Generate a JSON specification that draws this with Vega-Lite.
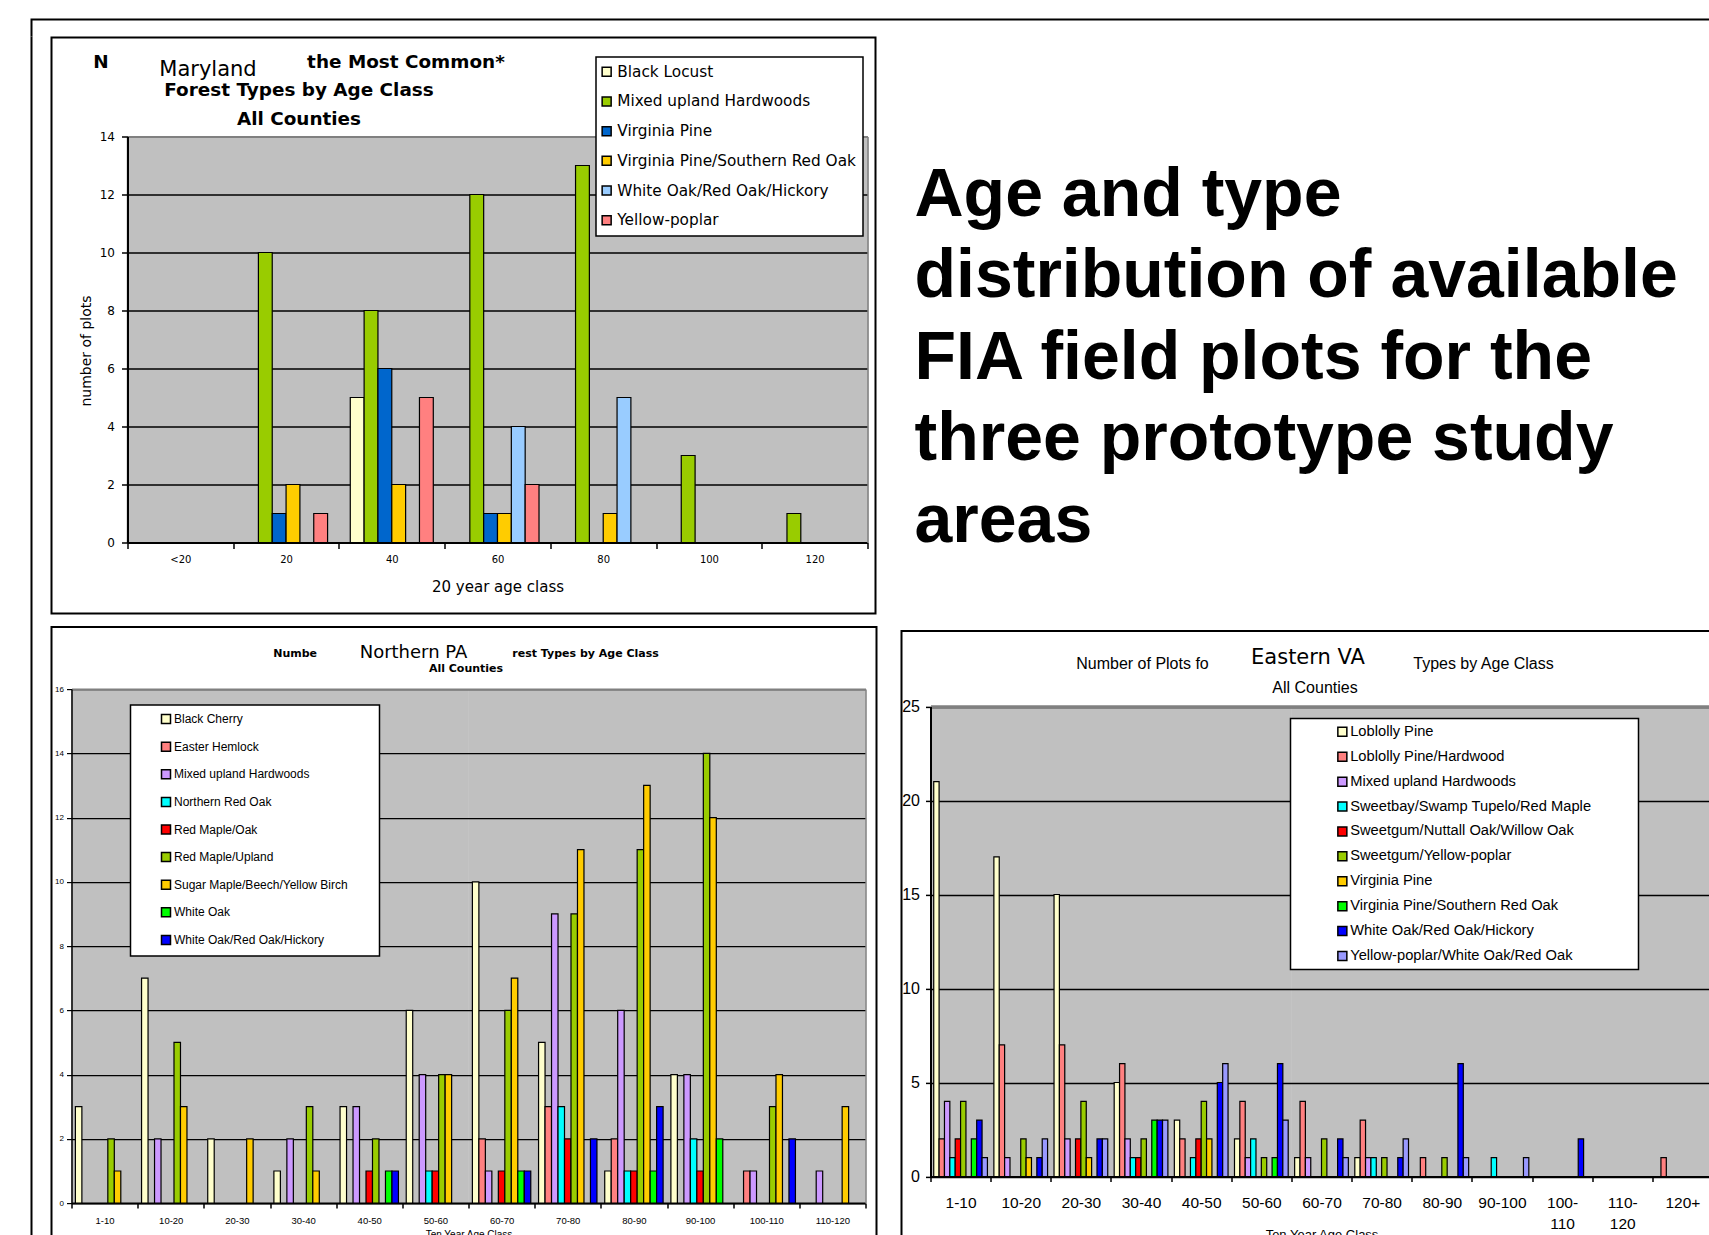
{
 "$schema": "https://vega.github.io/schema/vega-lite/v6.json",
 "usermeta": {"embedOptions": {"actions": false}},
 "background": "white",
 "padding": {"left": 29.5, "top": 17.5, "right": 0, "bottom": 0},
 "config": {
  "view": {"stroke": null},
  "legend": {"strokeWidth": 1.5},
  "axis": {"labelColor": "black", "titleColor": "black", "tickColor": "black", "domainColor": "black", "labelFlush": false, "labelOverlap": false, "titleFontWeight": "normal", "labelAngle": 0}
 },
 "datasets": {
  "maryland": [
   {"age": "20", "type": "Mixed upland Hardwoods", "plots": 10},
   {"age": "20", "type": "Virginia Pine", "plots": 1},
   {"age": "20", "type": "Virginia Pine/Southern Red Oak", "plots": 2},
   {"age": "20", "type": "Yellow-poplar", "plots": 1},
   {"age": "40", "type": "Black Locust", "plots": 5},
   {"age": "40", "type": "Mixed upland Hardwoods", "plots": 8},
   {"age": "40", "type": "Virginia Pine", "plots": 6},
   {"age": "40", "type": "Virginia Pine/Southern Red Oak", "plots": 2},
   {"age": "40", "type": "Yellow-poplar", "plots": 5},
   {"age": "60", "type": "Mixed upland Hardwoods", "plots": 12},
   {"age": "60", "type": "Virginia Pine", "plots": 1},
   {"age": "60", "type": "Virginia Pine/Southern Red Oak", "plots": 1},
   {"age": "60", "type": "White Oak/Red Oak/Hickory", "plots": 4},
   {"age": "60", "type": "Yellow-poplar", "plots": 2},
   {"age": "80", "type": "Mixed upland Hardwoods", "plots": 13},
   {"age": "80", "type": "Virginia Pine/Southern Red Oak", "plots": 1},
   {"age": "80", "type": "White Oak/Red Oak/Hickory", "plots": 5},
   {"age": "100", "type": "Mixed upland Hardwoods", "plots": 3},
   {"age": "120", "type": "Mixed upland Hardwoods", "plots": 1}
  ],
  "northernPA": [
   {"age": "1-10", "type": "Black Cherry", "plots": 3},
   {"age": "1-10", "type": "Red Maple/Upland", "plots": 2},
   {"age": "1-10", "type": "Sugar Maple/Beech/Yellow Birch", "plots": 1},
   {"age": "10-20", "type": "Black Cherry", "plots": 7},
   {"age": "10-20", "type": "Mixed upland Hardwoods", "plots": 2},
   {"age": "10-20", "type": "Red Maple/Upland", "plots": 5},
   {"age": "10-20", "type": "Sugar Maple/Beech/Yellow Birch", "plots": 3},
   {"age": "20-30", "type": "Black Cherry", "plots": 2},
   {"age": "20-30", "type": "Sugar Maple/Beech/Yellow Birch", "plots": 2},
   {"age": "30-40", "type": "Black Cherry", "plots": 1},
   {"age": "30-40", "type": "Mixed upland Hardwoods", "plots": 2},
   {"age": "30-40", "type": "Red Maple/Upland", "plots": 3},
   {"age": "30-40", "type": "Sugar Maple/Beech/Yellow Birch", "plots": 1},
   {"age": "40-50", "type": "Black Cherry", "plots": 3},
   {"age": "40-50", "type": "Mixed upland Hardwoods", "plots": 3},
   {"age": "40-50", "type": "Red Maple/Oak", "plots": 1},
   {"age": "40-50", "type": "Red Maple/Upland", "plots": 2},
   {"age": "40-50", "type": "White Oak", "plots": 1},
   {"age": "40-50", "type": "White Oak/Red Oak/Hickory", "plots": 1},
   {"age": "50-60", "type": "Black Cherry", "plots": 6},
   {"age": "50-60", "type": "Mixed upland Hardwoods", "plots": 4},
   {"age": "50-60", "type": "Northern Red Oak", "plots": 1},
   {"age": "50-60", "type": "Red Maple/Oak", "plots": 1},
   {"age": "50-60", "type": "Red Maple/Upland", "plots": 4},
   {"age": "50-60", "type": "Sugar Maple/Beech/Yellow Birch", "plots": 4},
   {"age": "60-70", "type": "Black Cherry", "plots": 10},
   {"age": "60-70", "type": "Easter Hemlock", "plots": 2},
   {"age": "60-70", "type": "Mixed upland Hardwoods", "plots": 1},
   {"age": "60-70", "type": "Red Maple/Oak", "plots": 1},
   {"age": "60-70", "type": "Red Maple/Upland", "plots": 6},
   {"age": "60-70", "type": "Sugar Maple/Beech/Yellow Birch", "plots": 7},
   {"age": "60-70", "type": "White Oak", "plots": 1},
   {"age": "60-70", "type": "White Oak/Red Oak/Hickory", "plots": 1},
   {"age": "70-80", "type": "Black Cherry", "plots": 5},
   {"age": "70-80", "type": "Easter Hemlock", "plots": 3},
   {"age": "70-80", "type": "Mixed upland Hardwoods", "plots": 9},
   {"age": "70-80", "type": "Northern Red Oak", "plots": 3},
   {"age": "70-80", "type": "Red Maple/Oak", "plots": 2},
   {"age": "70-80", "type": "Red Maple/Upland", "plots": 9},
   {"age": "70-80", "type": "Sugar Maple/Beech/Yellow Birch", "plots": 11},
   {"age": "70-80", "type": "White Oak/Red Oak/Hickory", "plots": 2},
   {"age": "80-90", "type": "Black Cherry", "plots": 1},
   {"age": "80-90", "type": "Easter Hemlock", "plots": 2},
   {"age": "80-90", "type": "Mixed upland Hardwoods", "plots": 6},
   {"age": "80-90", "type": "Northern Red Oak", "plots": 1},
   {"age": "80-90", "type": "Red Maple/Oak", "plots": 1},
   {"age": "80-90", "type": "Red Maple/Upland", "plots": 11},
   {"age": "80-90", "type": "Sugar Maple/Beech/Yellow Birch", "plots": 13},
   {"age": "80-90", "type": "White Oak", "plots": 1},
   {"age": "80-90", "type": "White Oak/Red Oak/Hickory", "plots": 3},
   {"age": "90-100", "type": "Black Cherry", "plots": 4},
   {"age": "90-100", "type": "Mixed upland Hardwoods", "plots": 4},
   {"age": "90-100", "type": "Northern Red Oak", "plots": 2},
   {"age": "90-100", "type": "Red Maple/Oak", "plots": 1},
   {"age": "90-100", "type": "Red Maple/Upland", "plots": 14},
   {"age": "90-100", "type": "Sugar Maple/Beech/Yellow Birch", "plots": 12},
   {"age": "90-100", "type": "White Oak", "plots": 2},
   {"age": "100-110", "type": "Easter Hemlock", "plots": 1},
   {"age": "100-110", "type": "Mixed upland Hardwoods", "plots": 1},
   {"age": "100-110", "type": "Red Maple/Upland", "plots": 3},
   {"age": "100-110", "type": "Sugar Maple/Beech/Yellow Birch", "plots": 4},
   {"age": "100-110", "type": "White Oak/Red Oak/Hickory", "plots": 2},
   {"age": "110-120", "type": "Mixed upland Hardwoods", "plots": 1},
   {"age": "110-120", "type": "Sugar Maple/Beech/Yellow Birch", "plots": 3}
  ],
  "easternVA": [
   {"age": "1-10", "type": "Loblolly Pine", "plots": 21},
   {"age": "1-10", "type": "Loblolly Pine/Hardwood", "plots": 2},
   {"age": "1-10", "type": "Mixed upland Hardwoods", "plots": 4},
   {"age": "1-10", "type": "Sweetbay/Swamp Tupelo/Red Maple", "plots": 1},
   {"age": "1-10", "type": "Sweetgum/Nuttall Oak/Willow Oak", "plots": 2},
   {"age": "1-10", "type": "Sweetgum/Yellow-poplar", "plots": 4},
   {"age": "1-10", "type": "Virginia Pine/Southern Red Oak", "plots": 2},
   {"age": "1-10", "type": "White Oak/Red Oak/Hickory", "plots": 3},
   {"age": "1-10", "type": "Yellow-poplar/White Oak/Red Oak", "plots": 1},
   {"age": "10-20", "type": "Loblolly Pine", "plots": 17},
   {"age": "10-20", "type": "Loblolly Pine/Hardwood", "plots": 7},
   {"age": "10-20", "type": "Mixed upland Hardwoods", "plots": 1},
   {"age": "10-20", "type": "Sweetgum/Yellow-poplar", "plots": 2},
   {"age": "10-20", "type": "Virginia Pine", "plots": 1},
   {"age": "10-20", "type": "White Oak/Red Oak/Hickory", "plots": 1},
   {"age": "10-20", "type": "Yellow-poplar/White Oak/Red Oak", "plots": 2},
   {"age": "20-30", "type": "Loblolly Pine", "plots": 15},
   {"age": "20-30", "type": "Loblolly Pine/Hardwood", "plots": 7},
   {"age": "20-30", "type": "Mixed upland Hardwoods", "plots": 2},
   {"age": "20-30", "type": "Sweetgum/Nuttall Oak/Willow Oak", "plots": 2},
   {"age": "20-30", "type": "Sweetgum/Yellow-poplar", "plots": 4},
   {"age": "20-30", "type": "Virginia Pine", "plots": 1},
   {"age": "20-30", "type": "White Oak/Red Oak/Hickory", "plots": 2},
   {"age": "20-30", "type": "Yellow-poplar/White Oak/Red Oak", "plots": 2},
   {"age": "30-40", "type": "Loblolly Pine", "plots": 5},
   {"age": "30-40", "type": "Loblolly Pine/Hardwood", "plots": 6},
   {"age": "30-40", "type": "Mixed upland Hardwoods", "plots": 2},
   {"age": "30-40", "type": "Sweetbay/Swamp Tupelo/Red Maple", "plots": 1},
   {"age": "30-40", "type": "Sweetgum/Nuttall Oak/Willow Oak", "plots": 1},
   {"age": "30-40", "type": "Sweetgum/Yellow-poplar", "plots": 2},
   {"age": "30-40", "type": "Virginia Pine/Southern Red Oak", "plots": 3},
   {"age": "30-40", "type": "White Oak/Red Oak/Hickory", "plots": 3},
   {"age": "30-40", "type": "Yellow-poplar/White Oak/Red Oak", "plots": 3},
   {"age": "40-50", "type": "Loblolly Pine", "plots": 3},
   {"age": "40-50", "type": "Loblolly Pine/Hardwood", "plots": 2},
   {"age": "40-50", "type": "Sweetbay/Swamp Tupelo/Red Maple", "plots": 1},
   {"age": "40-50", "type": "Sweetgum/Nuttall Oak/Willow Oak", "plots": 2},
   {"age": "40-50", "type": "Sweetgum/Yellow-poplar", "plots": 4},
   {"age": "40-50", "type": "Virginia Pine", "plots": 2},
   {"age": "40-50", "type": "White Oak/Red Oak/Hickory", "plots": 5},
   {"age": "40-50", "type": "Yellow-poplar/White Oak/Red Oak", "plots": 6},
   {"age": "50-60", "type": "Loblolly Pine", "plots": 2},
   {"age": "50-60", "type": "Loblolly Pine/Hardwood", "plots": 4},
   {"age": "50-60", "type": "Mixed upland Hardwoods", "plots": 1},
   {"age": "50-60", "type": "Sweetbay/Swamp Tupelo/Red Maple", "plots": 2},
   {"age": "50-60", "type": "Sweetgum/Yellow-poplar", "plots": 1},
   {"age": "50-60", "type": "Virginia Pine/Southern Red Oak", "plots": 1},
   {"age": "50-60", "type": "White Oak/Red Oak/Hickory", "plots": 6},
   {"age": "50-60", "type": "Yellow-poplar/White Oak/Red Oak", "plots": 3},
   {"age": "60-70", "type": "Loblolly Pine", "plots": 1},
   {"age": "60-70", "type": "Loblolly Pine/Hardwood", "plots": 4},
   {"age": "60-70", "type": "Mixed upland Hardwoods", "plots": 1},
   {"age": "60-70", "type": "Sweetgum/Yellow-poplar", "plots": 2},
   {"age": "60-70", "type": "White Oak/Red Oak/Hickory", "plots": 2},
   {"age": "60-70", "type": "Yellow-poplar/White Oak/Red Oak", "plots": 1},
   {"age": "70-80", "type": "Loblolly Pine", "plots": 1},
   {"age": "70-80", "type": "Loblolly Pine/Hardwood", "plots": 3},
   {"age": "70-80", "type": "Mixed upland Hardwoods", "plots": 1},
   {"age": "70-80", "type": "Sweetbay/Swamp Tupelo/Red Maple", "plots": 1},
   {"age": "70-80", "type": "Sweetgum/Yellow-poplar", "plots": 1},
   {"age": "70-80", "type": "White Oak/Red Oak/Hickory", "plots": 1},
   {"age": "70-80", "type": "Yellow-poplar/White Oak/Red Oak", "plots": 2},
   {"age": "80-90", "type": "Loblolly Pine/Hardwood", "plots": 1},
   {"age": "80-90", "type": "Sweetgum/Yellow-poplar", "plots": 1},
   {"age": "80-90", "type": "White Oak/Red Oak/Hickory", "plots": 6},
   {"age": "80-90", "type": "Yellow-poplar/White Oak/Red Oak", "plots": 1},
   {"age": "90-100", "type": "Sweetbay/Swamp Tupelo/Red Maple", "plots": 1},
   {"age": "90-100", "type": "Yellow-poplar/White Oak/Red Oak", "plots": 1},
   {"age": "100-110", "type": "White Oak/Red Oak/Hickory", "plots": 2},
   {"age": "120+", "type": "Loblolly Pine/Hardwood", "plots": 1}
  ],
  "heading": [
   {"text": "Age and type\ndistribution of available\nFIA field plots for the\nthree prototype study\nareas"}
  ]
 },
 "spacing": -6.5,
 "resolve": {"scale": {"x": "independent", "y": "independent", "color": "independent", "xOffset": "independent"}},
 "vconcat": [
  {"width": 1690, "height": 15.9, "data": {"values": []}, "mark": "point",
   "view": {"stroke": "black", "strokeWidth": 2, "strokeCap": "square", "strokeDash": [1690, 1705.9, 15.9], "fill": null}},
  {"spacing": 0,
   "resolve": {"scale": {"x": "independent", "y": "independent", "color": "independent", "xOffset": "independent"}},
   "hconcat": [
    {"width": 17.5, "height": 1230, "data": {"values": []}, "mark": "point",
     "view": {"stroke": "black", "strokeWidth": 2, "strokeCap": "square", "strokeDash": [0, 1265, 1230], "fill": null}},
    {"spacing": 11.6,
     "resolve": {"scale": {"x": "independent", "y": "independent", "color": "independent", "xOffset": "independent"}},
     "vconcat": [
      {"spacing": 37.5,
       "resolve": {"scale": {"x": "independent", "y": "independent", "color": "independent", "xOffset": "independent"}},
       "hconcat": [
        {"width": 824, "height": 576,
         "view": {"stroke": "black", "strokeWidth": 2, "fill": "white"},
         "data": {"name": "maryland"},
         "layer": [
          {"mark": {"type": "bar", "opacity": 0},
           "encoding": {
            "x": {"field": "age", "type": "nominal",
                  "axis": {"orient": "top", "offset": -99, "grid": true, "gridColor": "#C0C0C0", "gridWidth": 107, "gridOpacity": 1, "bandPosition": 0.5, "ticks": false, "labels": false, "domain": true, "domainColor": "#808080", "domainWidth": 2,
                           "title": ["N\u00a0\u00a0\u00a0\u00a0\u00a0\u00a0\u00a0\u00a0\u00a0\u00a0\u00a0\u00a0\u00a0\u00a0\u00a0\u00a0\u00a0\u00a0\u00a0\u00a0\u00a0\u00a0\u00a0\u00a0\u00a0\u00a0\u00a0\u00a0\u00a0\u00a0\u00a0the Most Common*", "Forest Types by Age Class", "All Counties"],
                           "titleFont": "DejaVu Sans", "titleFontSize": 18.4, "titleFontWeight": "bold", "titleLineHeight": 28.3, "titleAlign": "center", "titleBaseline": "top", "titleAngle": 0, "titleX": 247, "titleY": -83.8}},
            "y": {"field": "plots", "type": "quantitative", "stack": null,
                  "axis": {"orient": "right", "offset": -8, "grid": false, "ticks": false, "labels": false, "domain": true, "domainColor": "#808080", "domainWidth": 1.5,
                           "title": "Maryland", "titleFont": "DejaVu Sans", "titleFontSize": 21, "titleFontWeight": "normal", "titleAngle": 0, "titleAlign": "center", "titleBaseline": "top", "titleX": -660, "titleY": 21}}
           }},
          {"mark": {"type": "bar", "stroke": "black", "strokeWidth": 1.2},
           "encoding": {
            "x": {"field": "age", "type": "nominal",
                  "scale": {"domain": ["<20", "20", "40", "60", "80", "100", "120"], "range": [76, 816], "paddingInner": 0, "paddingOuter": 0},
                  "axis": {"orient": "bottom", "offset": -71, "tickBand": "extent", "tickSize": 6, "tickWidth": 1.5, "labelFont": "DejaVu Sans", "labelFontSize": 10, "labelPadding": 6, "domainWidth": 2, "grid": false, "title": "20 year age class", "titleFont": "DejaVu Sans", "titleFontSize": 15, "titlePadding": 14.5}},
            "y": {"field": "plots", "type": "quantitative", "stack": null,
                  "scale": {"domain": [0, 14], "range": [505, 99], "nice": false},
                  "axis": {"orient": "left", "offset": -76, "values": [0, 2, 4, 6, 8, 10, 12, 14], "grid": true, "gridColor": "black", "gridWidth": 1.6, "tickSize": 6, "tickWidth": 1.5, "labelFont": "DejaVu Sans", "labelFontSize": 12, "labelPadding": 7, "domainWidth": 2, "title": "number of plots", "titleFont": "DejaVu Sans", "titleFontSize": 14, "titlePadding": 6, "titleY": 313}},
            "xOffset": {"field": "type", "scale": {"domain": ["Black Locust", "Mixed upland Hardwoods", "Virginia Pine", "Virginia Pine/Southern Red Oak", "White Oak/Red Oak/Hickory", "Yellow-poplar"], "paddingInner": 0, "paddingOuter": 0.82}},
            "color": {"field": "type", "type": "nominal",
                      "scale": {"domain": ["Black Locust", "Mixed upland Hardwoods", "Virginia Pine", "Virginia Pine/Southern Red Oak", "White Oak/Red Oak/Hickory", "Yellow-poplar"], "range": ["#FFFFCC", "#99CC00", "#0066CC", "#FFCC00", "#99CCFF", "#FF8080"]},
                      "legend": {"orient": "none", "legendX": 544.5, "legendY": 19.6, "title": null, "symbolType": "square", "symbolSize": 81, "symbolStrokeColor": "black", "symbolStrokeWidth": 1.5, "labelFont": "DejaVu Sans", "labelFontSize": 15.3, "labelColor": "black", "rowPadding": 13.7, "padding": 7, "symbolOffset": -4, "strokeColor": "black", "fillColor": "white", "labelOffset": 3, "labelLimit": 0}}
           }}
         ],
         "resolve": {"axis": {"x": "independent", "y": "independent"}}
        },
        {"width": 1, "height": 248.4,
         "data": {"name": "heading"},
         "mark": {"type": "text", "align": "left", "baseline": "top", "font": "Liberation Sans", "fontSize": 68, "fontWeight": "bold", "lineHeight": 81.5, "lineBreak": "\n", "color": "black"},
         "encoding": {"text": {"field": "text", "type": "nominal"}}
        }
       ]},
      {"spacing": 23,
       "resolve": {"scale": {"x": "independent", "y": "independent", "color": "independent", "xOffset": "independent"}},
       "hconcat": [
        {"width": 825, "height": 640,
         "view": {"stroke": "black", "strokeWidth": 2, "fill": "white"},
         "data": {"name": "northernPA"},
         "layer": [
          {"mark": {"type": "bar", "opacity": 0},
           "encoding": {
            "x": {"field": "age", "type": "nominal",
                  "axis": {"orient": "top", "offset": -62, "grid": true, "gridColor": "#C0C0C0", "gridWidth": 67.5, "gridOpacity": 1, "bandPosition": 0.5, "ticks": false, "labels": false, "domain": true, "domainColor": "#808080", "domainWidth": 2,
                           "title": ["Numbe\u00a0\u00a0\u00a0\u00a0\u00a0\u00a0\u00a0\u00a0\u00a0\u00a0\u00a0\u00a0\u00a0\u00a0\u00a0\u00a0\u00a0\u00a0\u00a0\u00a0\u00a0\u00a0\u00a0\u00a0\u00a0\u00a0\u00a0\u00a0\u00a0\u00a0\u00a0\u00a0\u00a0\u00a0\u00a0\u00a0\u00a0\u00a0\u00a0\u00a0\u00a0\u00a0\u00a0\u00a0\u00a0\u00a0\u00a0\u00a0\u00a0\u00a0\u00a0rest Types by Age Class", "All Counties"],
                           "titleFont": "DejaVu Sans", "titleFontSize": 11, "titleFontWeight": "bold", "titleLineHeight": 15, "titleAlign": "center", "titleBaseline": "top", "titleAngle": 0, "titleX": 414, "titleY": -41.5}},
            "y": {"field": "plots", "type": "quantitative", "stack": null,
                  "axis": {"orient": "right", "offset": -11, "grid": false, "ticks": false, "labels": false, "domain": true, "domainColor": "#808080", "domainWidth": 1.5,
                           "title": "Northern PA", "titleFont": "DejaVu Sans", "titleFontSize": 18, "titleFontWeight": "normal", "titleAngle": 0, "titleAlign": "center", "titleBaseline": "top", "titleX": -452.5, "titleY": 16.2}}
           }},
          {"mark": {"type": "bar", "stroke": "black", "strokeWidth": 1.2},
           "encoding": {
            "x": {"field": "age", "type": "nominal",
                  "scale": {"domain": ["1-10", "10-20", "20-30", "30-40", "40-50", "50-60", "60-70", "70-80", "80-90", "90-100", "100-110", "110-120"], "range": [20, 814], "paddingInner": 0, "paddingOuter": 0},
                  "axis": {"orient": "bottom", "offset": -64, "tickBand": "extent", "tickSize": 5, "tickWidth": 1.5, "labelFont": "Liberation Sans", "labelFontSize": 9.5, "labelPadding": 7, "domainWidth": 2, "grid": false, "title": "Ten Year Age Class", "titleFont": "Liberation Sans", "titleFontSize": 10, "titleColor": "black", "titlePadding": 5}},
            "y": {"field": "plots", "type": "quantitative", "stack": null,
                  "scale": {"domain": [0, 16], "range": [576, 62], "nice": false},
                  "axis": {"orient": "left", "offset": -20, "values": [0, 2, 4, 6, 8, 10, 12, 14, 16], "grid": true, "gridColor": "black", "gridWidth": 1.2, "tickSize": 5, "tickWidth": 1.2, "labelFont": "Liberation Sans", "labelFontSize": 8, "labelPadding": 3, "domainWidth": 1.5, "title": null}},
            "xOffset": {"field": "type", "scale": {"domain": ["Black Cherry", "Easter Hemlock", "Mixed upland Hardwoods", "Northern Red Oak", "Red Maple/Oak", "Red Maple/Upland", "Sugar Maple/Beech/Yellow Birch", "White Oak", "White Oak/Red Oak/Hickory"], "paddingInner": 0, "paddingOuter": 0.6}},
            "color": {"field": "type", "type": "nominal",
                      "scale": {"domain": ["Black Cherry", "Easter Hemlock", "Mixed upland Hardwoods", "Northern Red Oak", "Red Maple/Oak", "Red Maple/Upland", "Sugar Maple/Beech/Yellow Birch", "White Oak", "White Oak/Red Oak/Hickory"], "range": ["#FFFFCC", "#FF8080", "#CC99FF", "#00FFFF", "#FF0000", "#99CC00", "#FFCC00", "#00FF00", "#0000FF"]},
                      "legend": {"orient": "none", "legendX": 79, "legendY": 78, "title": null, "symbolType": "square", "symbolSize": 81, "symbolStrokeColor": "black", "symbolStrokeWidth": 1.5, "labelFont": "Liberation Sans", "labelFontSize": 12, "labelColor": "black", "rowPadding": 11.6, "padding": 8, "symbolOffset": 21.5, "strokeColor": "black", "fillColor": "white", "labelOffset": 2, "labelLimit": 0,
                                 "labelExpr": "datum.label + '\u00a0\u00a0\u00a0\u00a0\u00a0\u00a0\u00a0\u200b'"}}
           }}
         ],
         "resolve": {"axis": {"x": "independent", "y": "independent"}}
        },
        {"spacing": 1.8,
         "resolve": {"scale": {"x": "independent", "y": "independent", "color": "independent", "xOffset": "independent"}},
         "vconcat": [
          {"width": 1, "height": 0.2, "data": {"values": []}, "mark": "point"},
          {"width": 812, "height": 640,
           "view": {"stroke": "black", "strokeWidth": 2, "fill": "white"},
           "data": {"name": "easternVA"},
           "layer": [
            {"mark": {"type": "bar", "opacity": 0},
             "encoding": {
              "x": {"field": "age", "type": "nominal",
                    "axis": {"orient": "top", "offset": -75.6, "grid": true, "gridColor": "#C0C0C0", "gridWidth": 61.5, "gridOpacity": 1, "bandPosition": 0.5, "ticks": false, "labels": false, "domain": true, "domainColor": "#808080", "domainWidth": 3.5,
                             "title": ["Number of Plots fo\u00a0\u00a0\u00a0\u00a0\u00a0\u00a0\u00a0\u00a0\u00a0\u00a0\u00a0\u00a0\u00a0\u00a0\u00a0\u00a0\u00a0\u00a0\u00a0\u00a0\u00a0\u00a0\u00a0\u00a0\u00a0\u00a0\u00a0\u00a0\u00a0\u00a0\u00a0\u00a0\u00a0\u00a0\u00a0\u00a0\u00a0\u00a0\u00a0\u00a0\u00a0\u00a0\u00a0\u00a0\u00a0\u00a0Types by Age Class", "All Counties"],
                             "titleFont": "Liberation Sans", "titleFontSize": 16, "titleFontWeight": "normal", "titleLineHeight": 24, "titleAlign": "center", "titleBaseline": "top", "titleAngle": 0, "titleX": 413, "titleY": -51.3}},
              "y": {"field": "plots", "type": "quantitative", "stack": null,
                    "axis": {"orient": "right", "offset": -1, "grid": false, "ticks": false, "labels": false, "domain": true, "domainColor": "#808080", "domainWidth": 1.5,
                             "title": "Eastern VA", "titleFont": "DejaVu Sans", "titleFontSize": 21, "titleFontWeight": "normal", "titleAngle": 0, "titleAlign": "center", "titleBaseline": "top", "titleX": -405, "titleY": 16}}
             }},
            {"mark": {"type": "bar", "stroke": "black", "strokeWidth": 1.2},
             "encoding": {
              "x": {"field": "age", "type": "nominal",
                    "scale": {"domain": ["1-10", "10-20", "20-30", "30-40", "40-50", "50-60", "60-70", "70-80", "80-90", "90-100", "100-110", "110-120", "120+"], "range": [29, 811], "paddingInner": 0, "paddingOuter": 0},
                    "axis": {"orient": "bottom", "offset": -94.4, "tickBand": "extent", "tickSize": 5, "tickWidth": 1.5, "labelFont": "Liberation Sans", "labelFontSize": 15.5, "labelPadding": 13.6, "labelLineHeight": 21, "domainWidth": 2, "grid": false,
                             "labelExpr": "datum.value === '100-110' ? ['100-', '110'] : datum.value === '110-120' ? ['110-', '120'] : datum.label",
                             "title": "Ten Year Age Class", "titleFont": "Liberation Sans", "titleFontSize": 13, "titlePadding": -3}},
              "y": {"field": "plots", "type": "quantitative", "stack": null,
                    "scale": {"domain": [0, 25], "range": [545.6, 75.6], "nice": false},
                    "axis": {"orient": "left", "offset": -29, "values": [0, 5, 10, 15, 20, 25], "grid": true, "gridColor": "black", "gridWidth": 1.5, "tickSize": 5, "tickWidth": 1.5, "labelFont": "Liberation Sans", "labelFontSize": 16, "labelPadding": 6, "domainWidth": 2, "title": null}},
              "xOffset": {"field": "type", "scale": {"domain": ["Loblolly Pine", "Loblolly Pine/Hardwood", "Mixed upland Hardwoods", "Sweetbay/Swamp Tupelo/Red Maple", "Sweetgum/Nuttall Oak/Willow Oak", "Sweetgum/Yellow-poplar", "Virginia Pine", "Virginia Pine/Southern Red Oak", "White Oak/Red Oak/Hickory", "Yellow-poplar/White Oak/Red Oak"], "paddingInner": 0, "paddingOuter": 0.6}},
              "color": {"field": "type", "type": "nominal",
                        "scale": {"domain": ["Loblolly Pine", "Loblolly Pine/Hardwood", "Mixed upland Hardwoods", "Sweetbay/Swamp Tupelo/Red Maple", "Sweetgum/Nuttall Oak/Willow Oak", "Sweetgum/Yellow-poplar", "Virginia Pine", "Virginia Pine/Southern Red Oak", "White Oak/Red Oak/Hickory", "Yellow-poplar/White Oak/Red Oak"], "range": ["#FFFFCC", "#FF8080", "#CC99FF", "#00FFFF", "#FF0000", "#99CC00", "#FFCC00", "#00FF00", "#0000FF", "#9999FF"]},
                        "legend": {"orient": "none", "legendX": 389, "legendY": 87.6, "title": null, "symbolType": "square", "symbolSize": 81, "symbolStrokeColor": "black", "symbolStrokeWidth": 1.5, "labelFont": "Liberation Sans", "labelFontSize": 14.7, "labelColor": "black", "rowPadding": 8.9, "padding": 6, "symbolOffset": 38.5, "strokeColor": "black", "fillColor": "white", "labelOffset": 0.5, "labelLimit": 0,
                                   "labelExpr": "datum.label + '\u00a0\u00a0\u00a0\u00a0\u00a0\u00a0\u00a0\u00a0\u00a0\u00a0\u200b'"}}
             }}
           ],
           "resolve": {"axis": {"x": "independent", "y": "independent"}}
          }
         ]}
       ]}
     ]}
   ]}
 ]
}
